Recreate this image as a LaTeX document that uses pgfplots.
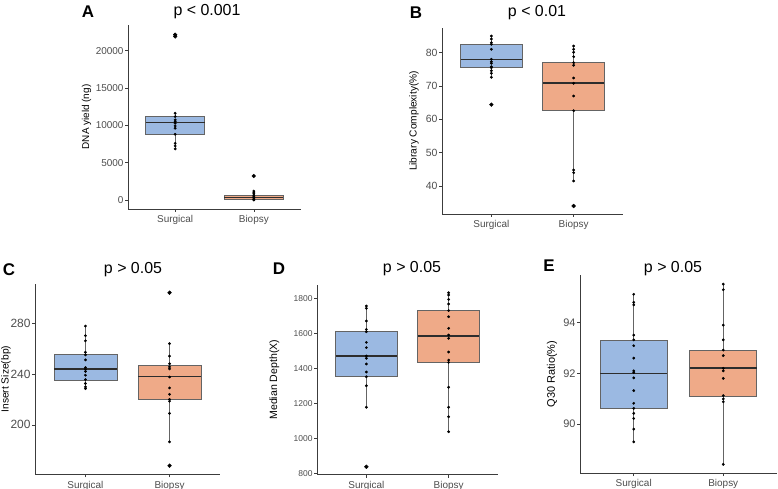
\documentclass[border=0pt]{standalone}
\usepackage{pgfplots}
\pgfplotsset{compat=1.18}
\usepackage{fontspec}
\setmainfont{Liberation Sans}
\definecolor{blueF}{RGB}{155,185,226}
\definecolor{orangeF}{RGB}{239,170,136}
\definecolor{boxgrey}{RGB}{100,100,100}
\definecolor{medgrey}{RGB}{45,45,45}
\definecolor{axgrey}{RGB}{60,60,60}
\definecolor{tickgrey}{RGB}{77,77,77}
\pgfplotsset{
  bx/.style={scale only axis, axis x line*=bottom, axis y line*=left,
    xmin=0.4, xmax=2.6, xtick={1,2}, xticklabels={Surgical,Biopsy},
    axis line style={-, draw=axgrey, line width=0.7pt},
    tick style={draw=axgrey, line width=0.6pt}, tick align=outside, major tick length=3bp,
    /pgf/number format/assume math mode=true, /pgf/number format/1000 sep={},
    scaled y ticks=false, yticklabel style={text=tickgrey, xshift=2bp},
    xticklabel style={text=tickgrey, font=\fontsize{10}{12}\selectfont},
    ylabel style={font=\fontsize{10}{12}\selectfont, anchor=center},
    clip=false},
  pts/.style={only marks, mark=*, mark size=1.2pt, black},
  outl/.style={only marks, mark=*, mark size=1.9pt, black},
}
% box: #1 centre, #2 left, #3 right, #4 lower whisker, #5 Q1, #6 median, #7 Q3, #8 upper whisker, #9 fill
\newcommand{\bx}[9]{%
  \addplot[boxgrey, line width=0.6pt, forget plot] coordinates {(#1,#4)(#1,#5)};
  \addplot[boxgrey, line width=0.6pt, forget plot] coordinates {(#1,#7)(#1,#8)};
  \addplot[fill=#9, draw=boxgrey, line width=0.8pt, forget plot] coordinates {(#2,#5)(#3,#5)(#3,#7)(#2,#7)} --cycle;
  \addplot[medgrey, line width=1.6pt, forget plot] coordinates {(#2,#6)(#3,#6)};}
\begin{document}
\begin{tikzpicture}
\path[use as bounding box] (0bp,0bp) rectangle (778bp,489bp);
% ---------- A
\begin{axis}[bx, at={(128bp,280bp)}, anchor=south west, width=173bp, height=184bp,
  ymin=-1200, ymax=23450, ytick={0,5000,10000,15000,20000},
  yticklabel style={font=\fontsize{10}{12}\selectfont}, ylabel={DNA yield (ng)},
  ylabel style={at={(axis description cs:-0.240,0.5)}}]
\bx{1}{0.625}{1.375}{6850}{8860}{10380}{11230}{11630}{blueF}
\bx{2}{1.625}{2.375}{0}{50}{330}{620}{1200}{orangeF}
\addplot[pts] coordinates {(1,11630)(1,11180)(1,10740)(1,10500)(1,10290)(1,9930)(1,9620)(1,8810)(1,7600)(1,7250)(1,6850)};
\addplot[outl] coordinates {(1,22150)(1,21920)};
\addplot[pts] coordinates {(2,1200)(2,1050)(2,850)(2,650)(2,450)(2,300)(2,150)(2,50)(2,0)};
\addplot[outl] coordinates {(2,3220)};
\end{axis}
% ---------- B
\begin{axis}[bx, at={(442bp,275bp)}, anchor=south west, width=181bp, height=186bp,
  ymin=31.6, ymax=87.4, ytick={40,50,60,70,80},
  yticklabel style={font=\fontsize{10.5}{12}\selectfont}, ylabel={Library Complexity(\%)},
  ylabel style={at={(axis description cs:-0.155,0.5)}, font=\fontsize{10.2}{12}\selectfont}]
\bx{1}{0.625}{1.375}{72.6}{75.5}{78.0}{82.5}{85.0}{blueF}
\bx{2}{1.625}{2.375}{41.5}{62.6}{70.9}{77.0}{82.0}{orangeF}
\addplot[pts] coordinates {(1,85.0)(1,84.1)(1,83.0)(1,82.5)(1,81.0)(1,78.0)(1,77.3)(1,76.8)(1,75.8)(1,75.5)(1,74.6)(1,73.8)(1,72.6)};
\addplot[outl] coordinates {(1,64.4)};
\addplot[pts] coordinates {(2,82.0)(2,81.0)(2,80.1)(2,78.8)(2,77.0)(2,76.2)(2,72.4)(2,70.8)(2,67.0)(2,62.6)(2,44.8)(2,44.0)(2,41.5)};
\addplot[outl] coordinates {(2,34.0)};
\end{axis}
% ---------- C
\begin{axis}[bx, at={(35bp,14.7bp)}, anchor=south west, width=185bp, height=190.3bp,
  ymin=161.2, ymax=310.6, ytick={200,240,280},
  yticklabel style={font=\fontsize{12}{14}\selectfont}, ylabel={Insert Size(bp)},
  ylabel style={at={(axis description cs:-0.157,0.5)}, font=\fontsize{10.3}{12}\selectfont}]
\bx{1}{0.625}{1.375}{228.5}{234.8}{244}{255}{277.6}{blueF}
\bx{2}{1.625}{2.375}{186.7}{220}{238}{246.6}{263.8}{orangeF}
\addplot[pts] coordinates {(1,277.6)(1,270)(1,266)(1,257)(1,255)(1,251)(1,245)(1,243.7)(1,242)(1,239)(1,235.6)(1,232.5)(1,229.8)(1,228.5)};
\addplot[pts] coordinates {(2,263.8)(2,254)(2,248)(2,245.5)(2,244)(2,237.6)(2,229)(2,224)(2,220)(2,218.6)(2,209)(2,186.7)};
\addplot[outl] coordinates {(2,303.8)(2,168)};
\end{axis}
% ---------- D
\begin{axis}[bx, at={(317bp,14.5bp)}, anchor=south west, width=181bp, height=189.5bp,
  ymin=796, ymax=1876, ytick={800,1000,1200,1400,1600,1800},
  yticklabel style={font=\fontsize{8.5}{10}\selectfont}, ylabel={Median Depth(X)},
  ylabel style={at={(axis description cs:-0.235,0.5)}, font=\fontsize{10.6}{12}\selectfont}]
\bx{1}{0.625}{1.375}{1179}{1353}{1471}{1610}{1756}{blueF}
\bx{2}{1.625}{2.375}{1040}{1436}{1586}{1730}{1832}{orangeF}
\addplot[pts] coordinates {(1,1756)(1,1743)(1,1671)(1,1623)(1,1610)(1,1549)(1,1519)(1,1471)(1,1458)(1,1426)(1,1380)(1,1353)(1,1302)(1,1179)};
\addplot[outl] coordinates {(1,840)};
\addplot[pts] coordinates {(2,1832)(2,1819)(2,1794)(2,1768)(2,1730)(2,1695)(2,1629)(2,1591)(2,1572)(2,1494)(2,1448)(2,1435)(2,1293)(2,1179)(2,1125)(2,1040)};
\end{axis}
% ---------- E
\begin{axis}[bx, at={(580bp,16bp)}, anchor=south west, width=197bp, height=198bp,
  ymin=88.07, ymax=95.88, ytick={90,92,94},
  yticklabel style={font=\fontsize{11}{13}\selectfont}, ylabel={Q30 Ratio(\%)},
  ylabel style={at={(axis description cs:-0.142,0.5)}, font=\fontsize{11}{13}\selectfont}]
\bx{1}{0.625}{1.375}{89.3}{90.62}{92.0}{93.32}{95.12}{blueF}
\bx{2}{1.625}{2.375}{88.41}{91.1}{92.2}{92.9}{95.52}{orangeF}
\addplot[pts] coordinates {(1,95.12)(1,94.8)(1,94.7)(1,93.51)(1,93.32)(1,93.09)(1,92.6)(1,92.1)(1,92.03)(1,91.82)(1,91.32)(1,90.82)(1,90.62)(1,90.42)(1,90.22)(1,89.8)(1,89.3)};
\addplot[pts] coordinates {(2,95.52)(2,95.3)(2,93.9)(2,93.32)(2,92.92)(2,92.7)(2,92.2)(2,92.1)(2,91.8)(2,91.12)(2,90.99)(2,90.88)(2,88.41)};
\end{axis}
% ---------- titles and letters
\node[anchor=base, font=\fontsize{17}{18}\selectfont\bfseries] at (88bp,471.7bp) {A};
\node[anchor=base, font=\fontsize{16}{18}\selectfont] at (207bp,473bp) {p < 0.001};
\node[anchor=base, font=\fontsize{17}{18}\selectfont\bfseries] at (416bp,470.7bp) {B};
\node[anchor=base, font=\fontsize{16}{18}\selectfont] at (537bp,472.3bp) {p < 0.01};
\node[anchor=base, font=\fontsize{17}{18}\selectfont\bfseries] at (9bp,213bp) {C};
\node[anchor=base, font=\fontsize{16}{18}\selectfont] at (133bp,215.7bp) {p > 0.05};
\node[anchor=base, font=\fontsize{17}{18}\selectfont\bfseries] at (279bp,214bp) {D};
\node[anchor=base, font=\fontsize{16}{18}\selectfont] at (412bp,216.3bp) {p > 0.05};
\node[anchor=base, font=\fontsize{17}{18}\selectfont\bfseries] at (549bp,217.3bp) {E};
\node[anchor=base, font=\fontsize{16}{18}\selectfont] at (673bp,216.3bp) {p > 0.05};
\end{tikzpicture}
\end{document}
